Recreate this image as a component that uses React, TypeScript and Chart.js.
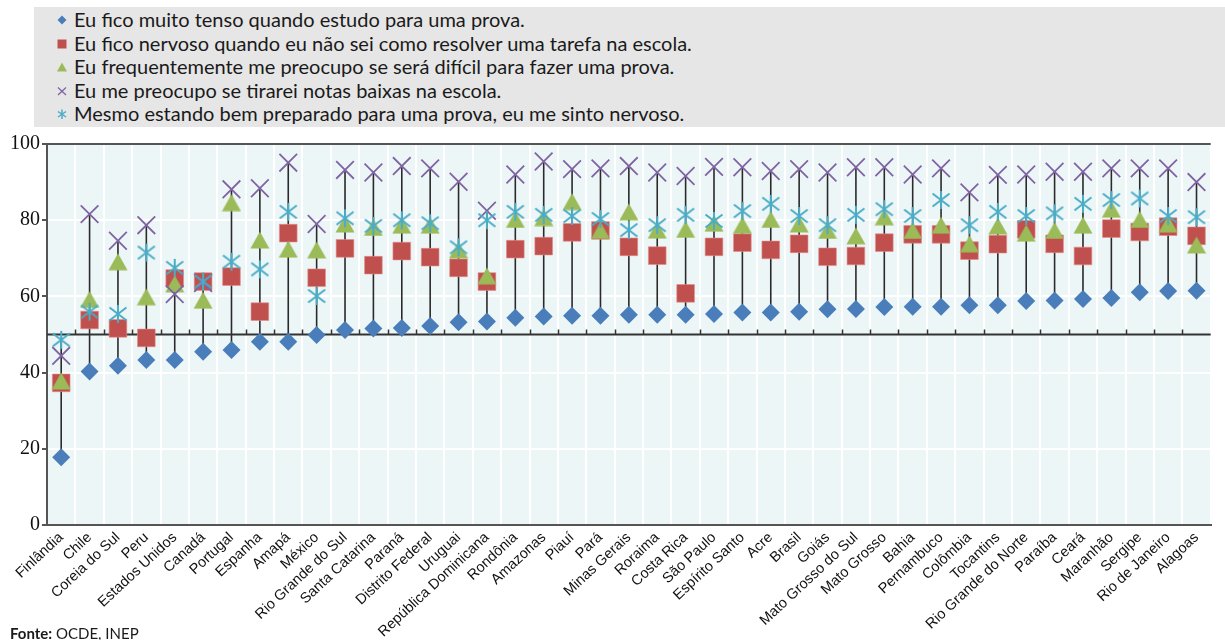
import React, { useEffect, useRef } from "react";
import { Chart, registerables } from "chart.js";

Chart.register(...registerables);

const categories = [
  "Finlândia", "Chile", "Coreia do Sul", "Peru", "Estados Unidos", "Canadá", "Portugal", "Espanha", "Amapá", "México",
  "Rio Grande do Sul", "Santa Catarina", "Paraná", "Distrito Federal", "Uruguai", "República Dominicana", "Rondônia", "Amazonas", "Piauí", "Pará",
  "Minas Gerais", "Roraima", "Costa Rica", "São Paulo", "Espírito Santo", "Acre", "Brasil", "Goiás", "Mato Grosso do Sul", "Mato Grosso",
  "Bahia", "Pernambuco", "Colômbia", "Tocantins", "Rio Grande do Norte", "Paraíba", "Ceará", "Maranhão", "Sergipe", "Rio de Janeiro",
  "Alagoas",
];

const seriesLabels = [
  "Eu fico muito tenso quando estudo para uma prova.",
  "Eu fico nervoso quando eu não sei como resolver uma tarefa na escola.",
  "Eu frequentemente me preocupo se será difícil para fazer uma prova.",
  "Eu me preocupo se tirarei notas baixas na escola.",
  "Mesmo estando bem preparado para uma prova, eu me sinto nervoso.",
];

const tenso = [17.8, 40.3, 41.8, 43.3, 43.3, 45.5, 45.9, 48.1, 48.1, 49.9, 51.2, 51.6, 51.7, 52.2, 53.2, 53.4, 54.4, 54.7, 54.9, 54.9, 55.2, 55.2, 55.2, 55.4, 55.8, 55.8, 56.0, 56.6, 56.7, 57.2, 57.3, 57.3, 57.7, 57.7, 58.8, 58.9, 59.3, 59.6, 61.1, 61.4, 61.5];
const nervosoTarefa = [37.3, 53.8, 51.6, 49.1, 64.7, 63.9, 65.2, 56.0, 76.6, 64.9, 72.6, 68.2, 71.9, 70.3, 67.5, 63.9, 72.4, 73.2, 76.8, 77.3, 73.0, 70.7, 60.8, 73.0, 74.1, 72.2, 73.8, 70.4, 70.6, 74.1, 76.3, 76.3, 72.0, 73.7, 77.6, 73.8, 70.6, 77.8, 76.9, 78.3, 75.9];
const dificilProva = [37.8, 59.2, 69.1, 59.9, 63.3, 59.0, 84.6, 74.8, 72.4, 72.2, 79.0, 78.1, 78.7, 78.7, 72.2, 65.4, 80.2, 80.7, 84.9, 77.3, 82.2, 77.4, 77.6, 79.2, 78.7, 80.2, 79.0, 77.3, 75.9, 80.9, 77.3, 78.7, 73.8, 78.5, 76.6, 77.3, 78.7, 82.9, 80.2, 79.0, 73.5];
const notasBaixas = [44.4, 81.6, 74.6, 78.7, 60.6, 63.5, 88.1, 88.4, 95.1, 79.0, 93.2, 92.5, 94.2, 93.6, 90.1, 82.5, 92.0, 95.4, 93.4, 93.6, 94.2, 92.5, 91.6, 94.0, 93.9, 92.9, 93.4, 92.5, 93.9, 93.9, 92.0, 93.6, 87.3, 91.9, 92.0, 92.7, 92.7, 93.6, 93.6, 93.6, 90.0];
const preparadoNervoso = [48.6, 56.0, 55.4, 71.5, 67.5, 63.9, 69.1, 67.1, 82.2, 60.1, 80.5, 78.5, 80.0, 79.2, 72.9, 80.0, 82.2, 81.4, 81.1, 80.3, 77.4, 78.7, 81.4, 79.8, 82.4, 84.3, 81.1, 78.7, 81.4, 82.9, 81.1, 85.3, 78.7, 82.2, 81.1, 81.8, 84.3, 85.3, 85.7, 81.1, 80.8];

const yTicks = [0, 20, 40, 60, 80, 100];
const referenceLine = 50;

const colors = ["#4a7ebb", "#c0504d", "#9bbb59", "#8064a2", "#4bacc6"];
const allSeries = [tenso, nervosoTarefa, dificilProva, notasBaixas, preparadoNervoso];

function makeTriangle(): HTMLCanvasElement {
  const c = document.createElement("canvas");
  c.width = 20; c.height = 18;
  const g = c.getContext("2d")!;
  g.fillStyle = colors[2];
  g.beginPath();
  g.moveTo(10, 0.5);
  g.lineTo(19.5, 17.5);
  g.lineTo(0.5, 17.5);
  g.closePath();
  g.fill();
  return c;
}

function makeAsterisk(): HTMLCanvasElement {
  const c = document.createElement("canvas");
  c.width = 20; c.height = 20;
  const g = c.getContext("2d")!;
  g.strokeStyle = colors[4];
  g.lineWidth = 2;
  g.beginPath();
  g.moveTo(10, 1); g.lineTo(10, 19);
  g.moveTo(1.5, 3.5); g.lineTo(18.5, 16.5);
  g.moveTo(18.5, 3.5); g.lineTo(1.5, 16.5);
  g.stroke();
  return c;
}

const bgPlugin = {
  id: "areaBg",
  beforeDraw(chart: any) {
    const { ctx, chartArea } = chart;
    const { left, top, right, bottom } = chartArea;
    ctx.save();
    ctx.fillStyle = "#edf6f7";
    ctx.fillRect(left, top, right - left, bottom - top);
    ctx.restore();
  },
};

const rangePlugin = {
  id: "rangeLines",
  beforeDatasetsDraw(chart: any) {
    const { ctx, chartArea, scales } = chart;
    const xs = scales.x;
    const ys = scales.y;
    ctx.save();
    ctx.strokeStyle = "#2a2a2a";
    ctx.lineWidth = 1.6;
    categories.forEach((_, i) => {
      const vals = allSeries.map((s) => s[i]);
      const mn = Math.min(...vals);
      const mx = Math.max(...vals);
      const px = xs.getPixelForValue(i);
      ctx.beginPath();
      ctx.moveTo(px, ys.getPixelForValue(mn));
      ctx.lineTo(px, ys.getPixelForValue(mx));
      ctx.stroke();
    });
    const y50 = ys.getPixelForValue(referenceLine);
    ctx.strokeStyle = "#333";
    ctx.lineWidth = 2;
    ctx.beginPath();
    ctx.moveTo(chartArea.left, y50);
    ctx.lineTo(chartArea.right, y50);
    ctx.stroke();
    ctx.lineWidth = 1.5;
    const half = (xs.getPixelForValue(1) - xs.getPixelForValue(0)) / 2;
    ctx.beginPath();
    for (let i = 1; i < categories.length; i++) {
      const bx = Math.round(xs.getPixelForValue(i) - half) + 0.5;
      ctx.moveTo(bx, y50);
      ctx.lineTo(bx, y50 - 5);
    }
    ctx.stroke();
    ctx.restore();
  },
};

function Icon({ kind }: { kind: number }) {
  const c = colors[kind];
  let shape: any = null;
  if (kind === 0) shape = <polygon points="6,1.5 10.5,6 6,10.5 1.5,6" fill={c} />;
  if (kind === 1) shape = <rect x="1.5" y="1.5" width="9" height="9" fill={c} />;
  if (kind === 2) shape = <polygon points="6,1.5 11,10.5 1,10.5" fill={c} />;
  if (kind === 3)
    shape = (
      <g stroke={c} strokeWidth="1.3">
        <line x1="2" y1="2.5" x2="10" y2="10" />
        <line x1="10" y1="2.5" x2="2" y2="10" />
      </g>
    );
  if (kind === 4)
    shape = (
      <g stroke={c} strokeWidth="1.5">
        <line x1="6" y1="1.5" x2="6" y2="11" />
        <line x1="2" y1="3.5" x2="10" y2="9" />
        <line x1="10" y1="3.5" x2="2" y2="9" />
      </g>
    );
  return (
    <svg width="12" height="12" style={{ position: "absolute", left: 22, top: 6 }}>
      {shape}
    </svg>
  );
}

export default function App() {
  const canvasRef = useRef<HTMLCanvasElement | null>(null);

  useEffect(() => {
    const canvas = canvasRef.current;
    if (!canvas) return;
    const tri = makeTriangle();
    const ast = makeAsterisk();
    const chart = new Chart(canvas, {
      type: "line",
      data: {
        labels: categories,
        datasets: [
          { label: seriesLabels[0], data: tenso, showLine: false, pointStyle: "rectRot", pointRadius: 9, pointHoverRadius: 9, pointBackgroundColor: colors[0], pointBorderColor: colors[0], pointBorderWidth: 0, order: 5 },
          { label: seriesLabels[1], data: nervosoTarefa, showLine: false, pointStyle: "rect", pointRadius: 12.5, pointHoverRadius: 12.5, pointBackgroundColor: colors[1], pointBorderColor: "rgba(230,140,140,0.6)", pointBorderWidth: 1, order: 4 },
          { label: seriesLabels[2], data: dificilProva, showLine: false, pointStyle: tri as any, pointRadius: 10, pointBackgroundColor: colors[2], pointBorderColor: colors[2], order: 3 },
          { label: seriesLabels[3], data: notasBaixas, showLine: false, pointStyle: "crossRot", pointRadius: 12.5, pointHoverRadius: 12.5, pointBackgroundColor: colors[3], pointBorderColor: colors[3], pointBorderWidth: 1.8, order: 2 },
          { label: seriesLabels[4], data: preparadoNervoso, showLine: false, pointStyle: ast as any, pointRadius: 10, pointBackgroundColor: colors[4], pointBorderColor: colors[4], order: 1 },
        ],
      },
      options: {
        animation: false,
        responsive: false,
        maintainAspectRatio: false,
        events: [],
        layout: { padding: { top: 144, left: 0, right: 0, bottom: 0 } },
        plugins: { legend: { display: false }, tooltip: { enabled: false } },
        scales: {
          x: {
            type: "category",
            offset: true,
            afterFit: (s: any) => { s.height = 115; },
            grid: { offset: true, color: "#ffffff", lineWidth: 2, drawTicks: false },
            border: { display: true, color: "#555555", width: 2 },
            ticks: {
              autoSkip: false,
              minRotation: 43,
              maxRotation: 43,
              padding: 4,
              color: "#111",
              font: { family: "'Liberation Sans', Arial, sans-serif", size: 14.5 },
            },
          },
          y: {
            min: 0,
            max: 100,
            afterFit: (s: any) => { s.width = 47; },
            afterBuildTicks: (s: any) => { s.ticks = yTicks.map((v) => ({ value: v })); },
            grid: {
              color: (ctx: any) => (ctx.tick && ctx.tick.value === 100 ? "#555555" : "#ffffff"),
              lineWidth: 2,
              tickColor: "#555555",
              tickLength: 5,
            },
            border: { display: true, color: "#555555", width: 2 },
            ticks: {
              padding: 2,
              color: "#111",
              font: { family: "'Liberation Serif', 'Times New Roman', serif", size: 20 },
            },
          },
        },
      },
      plugins: [bgPlugin, rangePlugin],
    });
    return () => chart.destroy();
  }, []);

  return (
    <div style={{ position: "absolute", left: 0, top: 0, width: 1225, height: 640, overflow: "hidden", background: "#fff" }}>
      <canvas ref={canvasRef} width={1225} height={640} style={{ position: "absolute", left: 0, top: 0, display: "block" }} />
      <div
        style={{
          position: "absolute",
          left: 34,
          top: 7,
          width: 1191,
          height: 120,
          background: "#e6e6e6",
          fontFamily: "Lato, 'Noto Sans', sans-serif",
          fontSize: 20,
          color: "#1a1a1a",
        }}
      >
        {seriesLabels.map((t, k) => (
          <div key={k} style={{ position: "absolute", left: 0, top: 1 + k * 23.5, height: 23.5, lineHeight: "23.5px", width: 1191, whiteSpace: "nowrap" }}>
            <Icon kind={k} />
            <span style={{ position: "absolute", left: 40, top: 0 }}>{t}</span>
          </div>
        ))}
      </div>
      <div
        style={{
          position: "absolute",
          left: 10,
          top: 624,
          fontFamily: "Lato, 'Noto Sans', sans-serif",
          fontSize: 15,
          lineHeight: "18px",
          color: "#1a1a1a",
          whiteSpace: "nowrap",
        }}
      >
        <b>Fonte:</b> OCDE, INEP
      </div>
    </div>
  );
}
